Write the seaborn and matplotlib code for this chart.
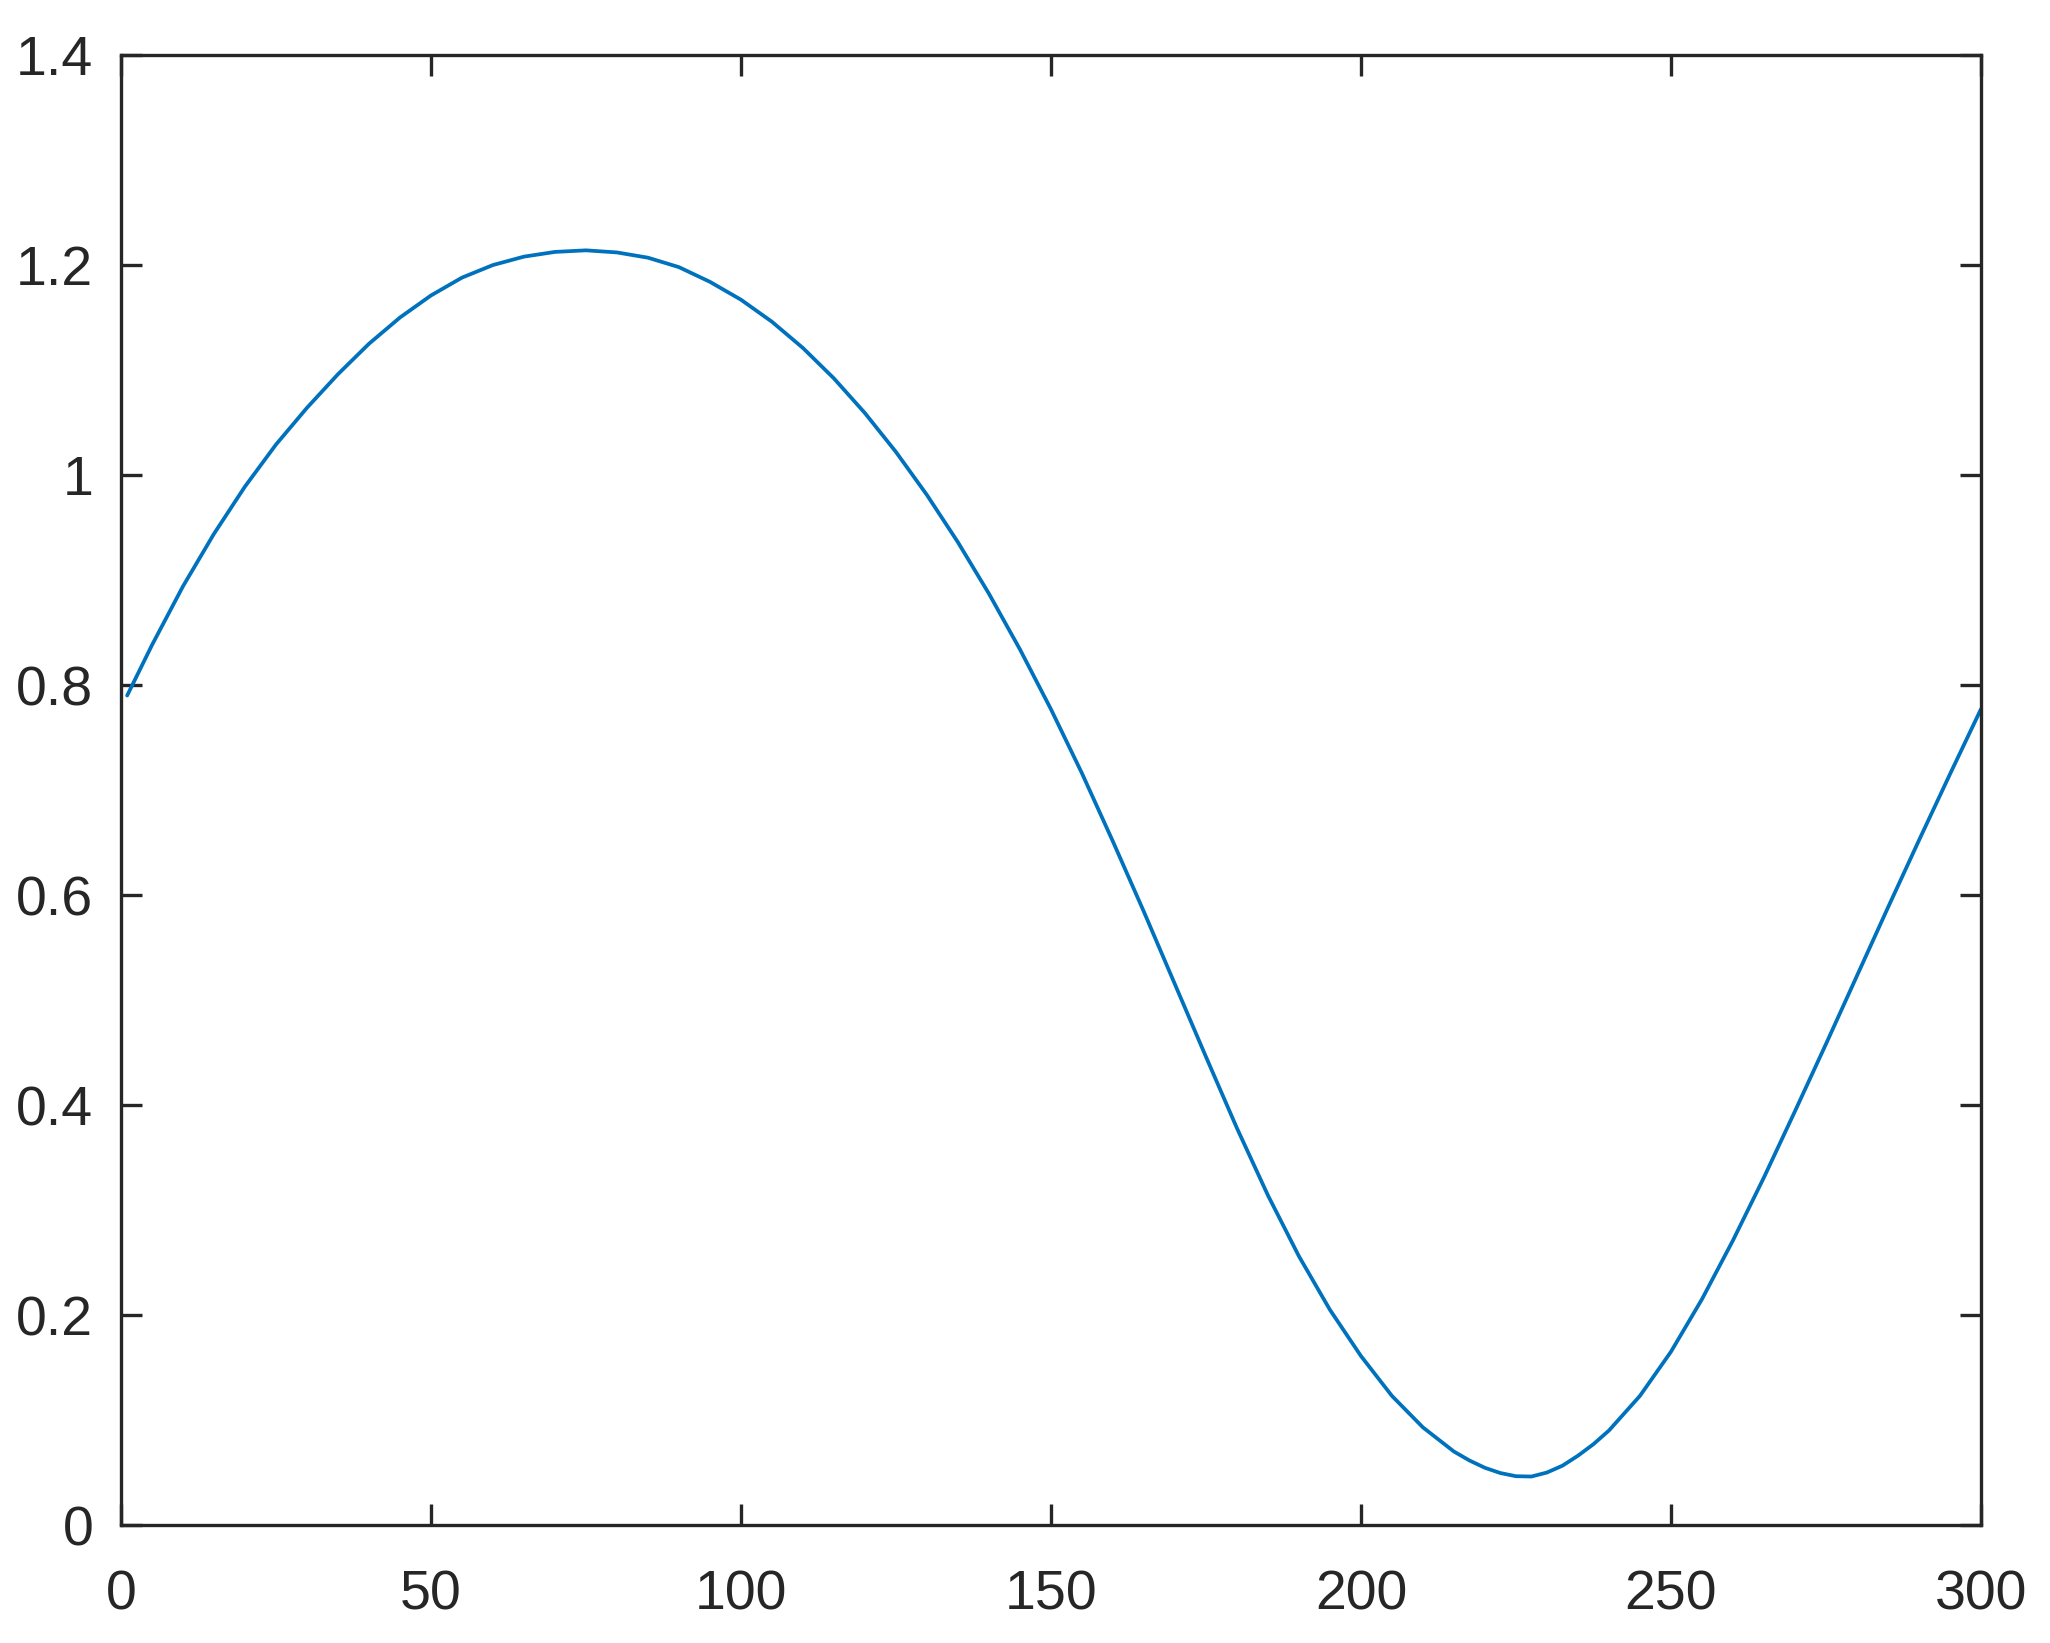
import matplotlib
matplotlib.use("Agg")
import matplotlib.pyplot as plt
import seaborn as sns
import pandas as pd

# values
x_vals = [1, 5, 10, 15, 20, 25, 30, 35, 40, 45, 50, 55, 60, 65, 70, 75,
          80, 85, 90, 95, 100, 105, 110, 115, 120, 125, 130, 135, 140, 145,
          150, 155, 160, 165, 170, 175, 180, 185, 190, 195, 200, 205, 210,
          215, 217.5, 220, 222.5, 225, 227.5, 230, 232.5, 235, 237.5, 240,
          245, 250, 255, 260, 265, 270, 275, 280, 285, 290, 295, 300]
y_vals = [0.790, 0.838, 0.894, 0.944, 0.989, 1.029, 1.064, 1.096, 1.125,
          1.150, 1.171, 1.188, 1.200, 1.208, 1.2125, 1.214,
          1.212, 1.207, 1.198, 1.184, 1.167, 1.146, 1.121, 1.092, 1.059,
          1.022, 0.981, 0.936, 0.887, 0.834, 0.777, 0.716, 0.651, 0.584,
          0.515, 0.446, 0.378, 0.314, 0.256, 0.205, 0.161, 0.123, 0.093,
          0.070, 0.0615, 0.0545, 0.0495, 0.0465, 0.0462, 0.050, 0.0565,
          0.066, 0.077, 0.090,
          0.123, 0.165, 0.215, 0.271, 0.331, 0.394, 0.458, 0.523, 0.588,
          0.652, 0.715, 0.777]

x_ticks = [0, 50, 100, 150, 200, 250, 300]
y_ticks = [0, 0.2, 0.4, 0.6, 0.8, 1, 1.2, 1.4]
y_tick_labels = ["0", "0.2", "0.4", "0.6", "0.8", "1", "1.2", "1.4"]

df = pd.DataFrame({"x": x_vals, "y": y_vals})

sns.set_theme(style="white")
plt.rcParams["font.family"] = ["Liberation Sans", "DejaVu Sans"]

fig = plt.figure(figsize=(20.5, 16.43), dpi=100)
ax = fig.add_axes([0.059, 0.0718, 0.9073, 0.8947])

sns.lineplot(data=df, x="x", y="y", ax=ax, color="#0072BD", linewidth=2.7)

ax.set_xlim(0, 300)
ax.set_ylim(0, 1.4)
ax.set_xticks(x_ticks)
ax.set_xticklabels([str(t) for t in x_ticks])
ax.set_yticks(y_ticks)
ax.set_yticklabels(y_tick_labels)
ax.set_xlabel("")
ax.set_ylabel("")

for side in ["left", "right", "top", "bottom"]:
    ax.spines[side].set_visible(True)
    ax.spines[side].set_color("#262626")
    ax.spines[side].set_linewidth(2.4)

ax.tick_params(axis="both", which="major", direction="in", length=15,
               width=2.4, color="#262626", labelcolor="#262626",
               labelsize=40, top=True, right=True, bottom=True, left=True)
ax.tick_params(axis="x", pad=32)
ax.tick_params(axis="y", pad=20)

fig.savefig("out.png", dpi=100)
plt.close(fig)
